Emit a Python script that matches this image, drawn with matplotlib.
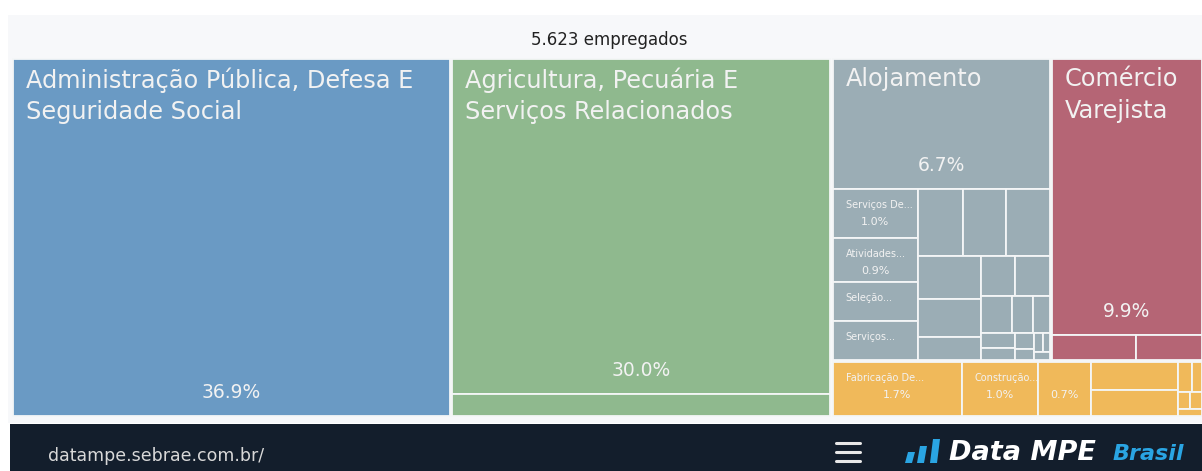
import matplotlib
matplotlib.use("Agg")
import matplotlib.pyplot as plt
from matplotlib.patches import Rectangle, Polygon

# share of the 5.623 employees by sector (groups) and sub-sector (leaves), in %
admin_names = ["Administração Pública, Defesa E\nSeguridade Social"]
admin_values = [36.9]

agro_names = ["Agricultura, Pecuária E\nServiços Relacionados", None]
agro_values = [30.0, 2.0]

serv_names = ["Alojamento", "Serviços De...", "Atividades...", "Seleção...", "Serviços..."]
serv_values = [6.7, 1.0, 0.9, 0.8, 0.8, 0.72, 0.71, 0.70, 0.64, 0.56, 0.35,
               0.33, 0.33, 0.28, 0.18, 0.15, 0.12, 0.10, 0.07, 0.05, 0.04, 0.03, 0.03]

com_names = ["Comércio\nVarejista"]
com_values = [9.9, 0.51, 0.40]

ind_names = ["Fabricação De...", "Construção..."]
ind_values = [1.7, 1.0, 0.7, 0.59, 0.55, 0.10, 0.07, 0.05, 0.05, 0.04]

group_colors = ["#6a9ac4", "#8fb98e", "#9badb5", "#b56575", "#f0b95a"]
total_label = "5.623 empregados"

RATIO = 1.75   # preferred aspect of a cell
TALL = 1.12    # lay rows along the top when the box is about square


def worst(row, side):
    s = sum(row)
    f = side * side * RATIO
    return max(f * max(row) / s ** 2, s ** 2 / (f * min(row)))


def squarify(values, x, y, w, h):
    """
    Squarified treemap, returns list of (x, y, w, h), y going down.
    """
    total = float(sum(values))
    areas = [v / total * w * h for v in values]
    rects = []
    i = 0
    while i < len(areas):
        along_top = w < h * TALL
        side = w if along_top else h
        row = [areas[i]]
        best = worst(row, side)
        j = i + 1
        while j < len(areas):
            score = worst(row + [areas[j]], side)
            if score > best:
                break
            row.append(areas[j])
            best = score
            j += 1
        thick = sum(row) / side
        if j == len(areas):
            thick = h if along_top else w
        pos = x if along_top else y
        for a in row:
            length = a / thick
            if along_top:
                rects.append((pos, y, length, thick))
            else:
                rects.append((x, pos, thick, length))
            pos += length
        if along_top:
            y += thick
            h -= thick
        else:
            x += thick
            w -= thick
        i = j
    return rects


fig = plt.figure(figsize=(12.02, 4.71), dpi=100)
fig.patch.set_facecolor("white")

# page background, footer
bg = fig.add_axes([0, 0, 1, 1])
bg.set_xlim(0, 1202)
bg.set_ylim(471, 0)
bg.axis("off")
bg.add_patch(Rectangle((8, 15), 1194, 408, color="#f7f8fa", lw=0))
bg.add_patch(Rectangle((10, 424), 1192, 47, color="#131e2c", lw=0))
bg.text(609, 40, total_label, ha="center", va="center", fontsize=12, color="#222222")
bg.text(48, 456, "datampe.sebrae.com.br/", ha="left", va="center",
        fontsize=12.5, color="#d8d8d8")
for yy in (443, 452, 461):
    bg.plot([836, 860], [yy, yy], color="#e8e8e8", lw=2.2, solid_capstyle="round")
blue = "#2aa5e3"
for x0, top in ((905, 452), (917, 446), (930, 439)):
    bg.add_patch(Polygon([(x0, 463), (x0 + 7, 463), (x0 + 10, top), (x0 + 3, top)],
                         closed=True, color=blue, lw=0))
bg.text(949, 453, "Data MPE", ha="left", va="center", fontsize=19.5,
        fontweight="bold", style="italic", color="white")
bg.text(1184, 454, "Brasil", ha="right", va="center", fontsize=16,
        fontweight="bold", style="italic", color=blue)

# treemap (runs a little past the right edge, like the screenshot)
W, H = 1191, 359
ax = fig.add_axes([12 / 1202, 1 - 417 / 471, W / 1202, H / 471])
ax.set_xlim(0, W)
ax.set_ylim(H, 0)
ax.axis("off")

groups = [
    (admin_names, admin_values),
    (agro_names, agro_values),
    (serv_names, serv_values),
    (com_names, com_values),
    (ind_names, ind_values),
]
group_rects = squarify([sum(v) for _, v in groups], 0, 0, W, H)

txt = "#f2f2f2"
pad = 1.2
for (names, values), color, (gx, gy, gw, gh) in zip(groups, group_colors, group_rects):
    leaves = squarify(values, gx + pad, gy + pad, gw - 2 * pad, gh - 2 * pad)
    for k, (lx, ly, lw, lh) in enumerate(leaves):
        ax.add_patch(Rectangle((lx, ly), lw, lh, facecolor=color,
                               edgecolor="#f4f6f7", lw=1.3))
        name = names[k] if k < len(names) else None
        pct = f"{values[k]:.1f}%"
        if lw >= 100 and lh >= 100:
            ax.text(lx + 13, ly + 8, name, ha="left", va="top", fontsize=17.3,
                    color=txt, linespacing=1.4)
            ax.text(lx + lw / 2, ly + lh - 23, pct, ha="center", va="center",
                    fontsize=13.5, color=txt)
            continue
        named = name is not None and lw >= 70 and lh >= 30
        if named:
            ax.text(lx + 13, ly + 16, name, ha="left", va="center",
                    fontsize=7, color=txt)
        if (named and lh >= 42) or (not named and lw >= 50 and lh >= 50):
            ax.text(lx + lw / 2, ly + 33, pct, ha="center", va="center",
                    fontsize=8, color=txt)

fig.savefig("out.png", dpi=100)
